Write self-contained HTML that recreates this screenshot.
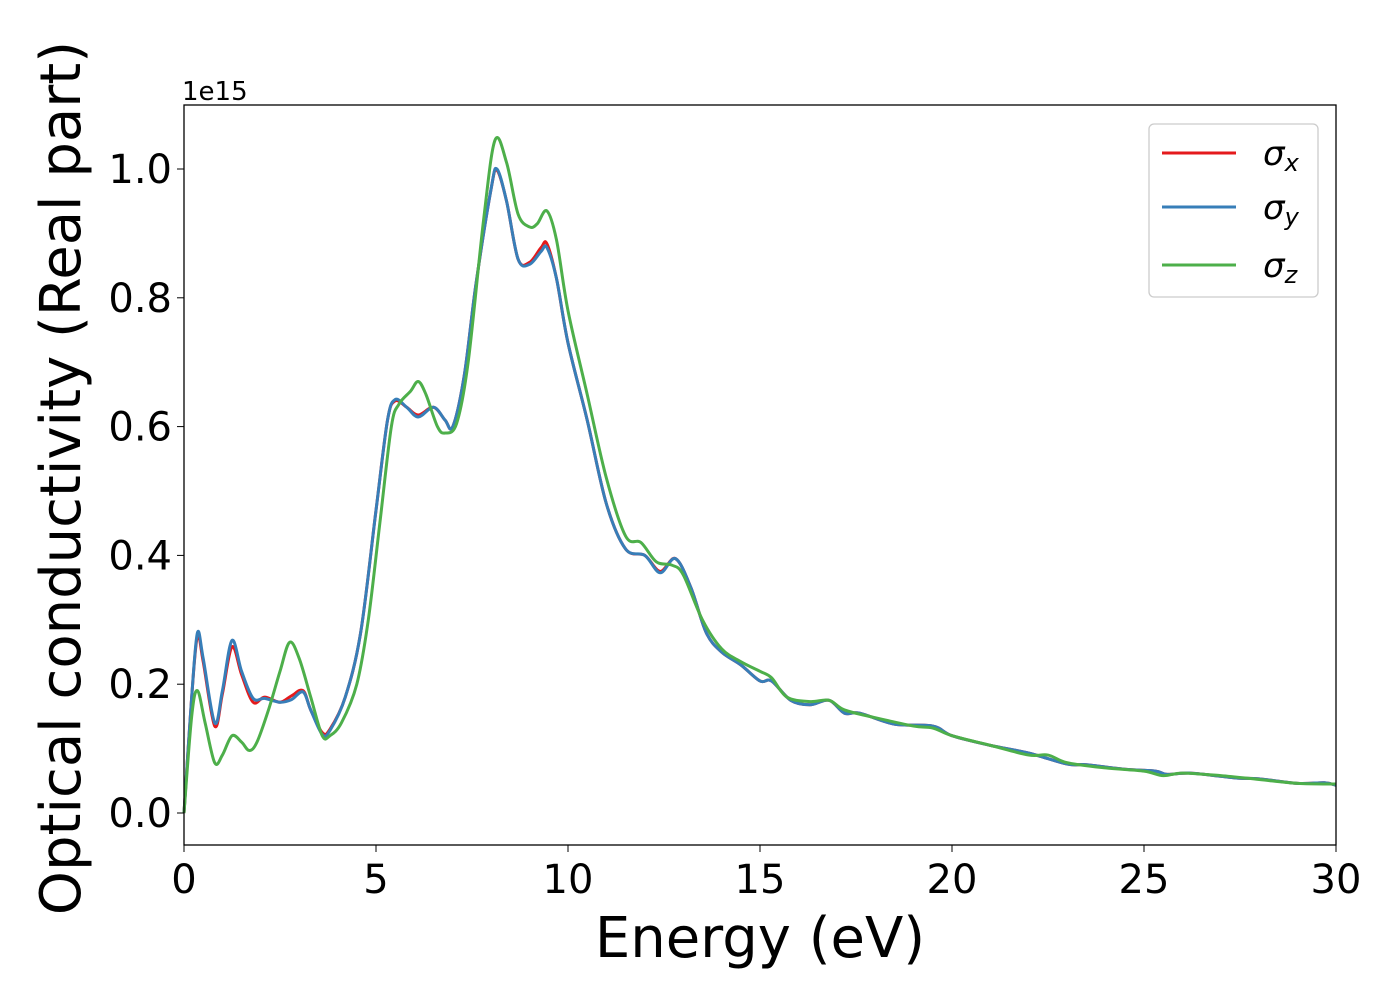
<!DOCTYPE html>
<html><head><meta charset="utf-8"><style>
body{margin:0;background:#fff;}
svg text{font-family:"DejaVu Sans","Liberation Sans",sans-serif;}
</style></head><body>
<svg id="chart" width="1400" height="1000" xmlns="http://www.w3.org/2000/svg">
<g id="marks"></g>
<rect x="184" y="105" width="1152" height="740" fill="none" stroke="#000" stroke-width="1.3"/>
<g id="ticks"></g>
<text x="182" y="100" font-size="26">1e15</text>
<text x="760" y="957" font-size="56" text-anchor="middle">Energy (eV)</text>
<text transform="translate(80,478) rotate(-90)" font-size="56" text-anchor="middle">Optical conductivity (Real part)</text>
<g>
<rect x="1149" y="124" width="169" height="173" rx="5" fill="#fff" stroke="#ccc" stroke-width="1.3"/>
<line x1="1162" y1="153" x2="1236" y2="153" stroke="#e41a1c" stroke-width="3"/>
<line x1="1162" y1="207" x2="1236" y2="207" stroke="#377eb8" stroke-width="3"/>
<line x1="1162" y1="265" x2="1236" y2="265" stroke="#4daf4a" stroke-width="3"/>
<text x="1263" y="165" font-size="34" font-style="italic">σ<tspan font-size="24" dy="6">x</tspan></text>
<text x="1263" y="219" font-size="34" font-style="italic">σ<tspan font-size="24" dy="6">y</tspan></text>
<text x="1263" y="277" font-size="34" font-style="italic">σ<tspan font-size="24" dy="6">z</tspan></text>
</g>
</svg>
<script>
const xTicks=[0,5,10,15,20,25,30];
const yTicks=[0.0,0.2,0.4,0.6,0.8,1.0];
const energyXY=[0,0.2,0.35,0.5,0.8,1.0,1.25,1.5,1.8,2.1,2.5,2.8,3.1,3.3,3.6,3.8,4.2,4.6,5.0,5.3,5.5,5.8,6.1,6.5,6.8,7.0,7.3,7.6,8.0,8.15,8.4,8.7,9.0,9.3,9.45,9.7,10.0,10.5,11.0,11.5,12.0,12.4,12.8,13.2,13.6,14.0,14.5,15.0,15.3,15.8,16.3,16.8,17.2,17.6,18.5,19.5,20,21,22,23,23.5,24.5,25.3,25.6,26.2,27,27.5,28,29,29.7,30];
const sigmaX=[0,0.18,0.275,0.235,0.135,0.185,0.258,0.215,0.172,0.18,0.172,0.182,0.19,0.16,0.125,0.13,0.18,0.28,0.47,0.61,0.64,0.63,0.618,0.63,0.61,0.60,0.68,0.82,0.97,0.998,0.95,0.86,0.855,0.878,0.884,0.83,0.73,0.61,0.48,0.41,0.40,0.375,0.395,0.35,0.28,0.25,0.23,0.205,0.205,0.175,0.168,0.175,0.155,0.155,0.138,0.135,0.12,0.105,0.093,0.076,0.075,0.068,0.065,0.06,0.062,0.057,0.054,0.053,0.046,0.047,0.043];
const sigmaY=[0,0.18,0.28,0.24,0.14,0.19,0.268,0.22,0.178,0.178,0.172,0.176,0.188,0.16,0.122,0.128,0.18,0.28,0.47,0.61,0.642,0.63,0.615,0.63,0.61,0.60,0.68,0.82,0.97,1.0,0.95,0.86,0.852,0.872,0.878,0.83,0.73,0.61,0.48,0.41,0.40,0.373,0.395,0.35,0.28,0.25,0.23,0.205,0.205,0.175,0.168,0.175,0.155,0.155,0.138,0.135,0.12,0.105,0.093,0.076,0.075,0.068,0.065,0.06,0.062,0.057,0.054,0.053,0.046,0.047,0.043];
const energyZ=[0,0.2,0.35,0.55,0.8,1.0,1.25,1.5,1.7,1.9,2.2,2.5,2.75,3.0,3.3,3.6,3.8,4.1,4.5,4.8,5.1,5.4,5.6,5.9,6.1,6.3,6.6,6.8,7.1,7.4,7.8,8.1,8.4,8.7,9.0,9.2,9.45,9.7,10.0,10.5,11.0,11.5,11.9,12.3,12.7,13.0,13.5,14.0,14.5,15.0,15.3,15.7,16.3,16.8,17.2,18,19,19.5,20,21,22,22.5,23,24,25,25.5,26,27,28,29,30];
const sigmaZ=[0,0.15,0.19,0.14,0.078,0.09,0.12,0.11,0.097,0.11,0.16,0.22,0.265,0.24,0.18,0.12,0.12,0.14,0.2,0.3,0.45,0.6,0.635,0.655,0.67,0.65,0.6,0.59,0.605,0.7,0.92,1.045,1.01,0.93,0.91,0.915,0.935,0.89,0.78,0.65,0.52,0.43,0.42,0.39,0.385,0.37,0.3,0.255,0.235,0.22,0.21,0.18,0.173,0.175,0.16,0.148,0.135,0.132,0.12,0.105,0.09,0.09,0.078,0.07,0.065,0.058,0.062,0.058,0.052,0.046,0.045];
const xs=v=>184+v*1152/30;
const ys=v=>813-v*644;
const NS="http://www.w3.org/2000/svg";
function smooth(px){let d=`M${px[0][0]},${px[0][1]}`;for(let i=0;i<px.length-1;i++){const p0=px[Math.max(0,i-1)],p1=px[i],p2=px[i+1],p3=px[Math.min(px.length-1,i+2)];d+=` C${p1[0]+(p2[0]-p0[0])/6},${p1[1]+(p2[1]-p0[1])/6} ${p2[0]-(p3[0]-p1[0])/6},${p2[1]-(p3[1]-p1[1])/6} ${p2[0]},${p2[1]}`;}return d;}
const marks=document.getElementById('marks');
function series(ex,vals,color,name){const p=document.createElementNS(NS,'path');p.setAttribute('d',smooth(ex.map((e,i)=>[xs(e),ys(vals[i])])));p.setAttribute('fill','none');p.setAttribute('stroke',color);p.setAttribute('stroke-width','3');


marks.appendChild(p);}
series(energyXY,sigmaX,'#e41a1c','series-sigma-x');
series(energyXY,sigmaY,'#377eb8','series-sigma-y');
series(energyZ,sigmaZ,'#4daf4a','series-sigma-z');
const t=document.getElementById('ticks');
xTicks.forEach(v=>{const l=document.createElementNS(NS,'line');l.setAttribute('x1',xs(v));l.setAttribute('x2',xs(v));l.setAttribute('y1',845);l.setAttribute('y2',852);l.setAttribute('stroke','#000');


t.appendChild(l);const tx=document.createElementNS(NS,'text');tx.setAttribute('x',xs(v));tx.setAttribute('y',893);tx.setAttribute('font-size','40');tx.setAttribute('text-anchor','middle');tx.textContent=v;


t.appendChild(tx);});
yTicks.forEach(v=>{const l=document.createElementNS(NS,'line');l.setAttribute('x1',177);l.setAttribute('x2',184);l.setAttribute('y1',ys(v));l.setAttribute('y2',ys(v));l.setAttribute('stroke','#000');


t.appendChild(l);const tx=document.createElementNS(NS,'text');tx.setAttribute('x',172);tx.setAttribute('y',ys(v)+14);tx.setAttribute('font-size','40');tx.setAttribute('text-anchor','end');tx.textContent=v.toFixed(1);


t.appendChild(tx);});
</script>
</body></html>
